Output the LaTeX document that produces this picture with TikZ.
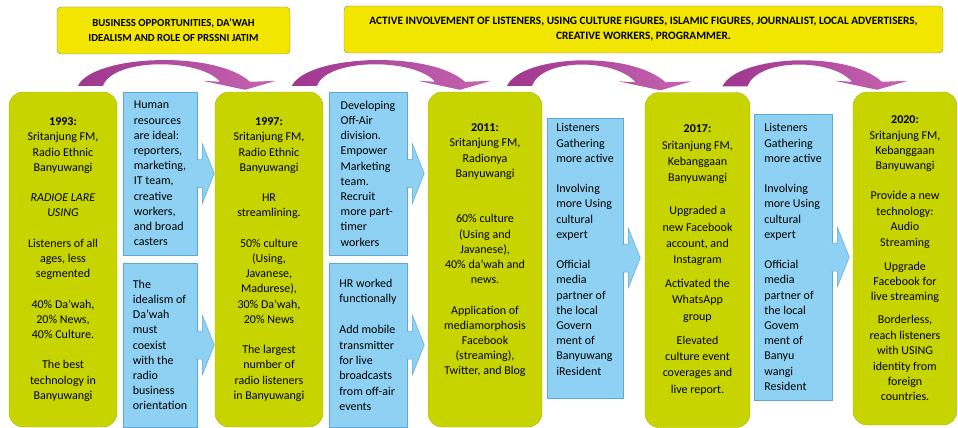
\documentclass[tikz,border=0pt]{standalone}
\usepackage{fontspec}
\setmainfont{Carlito}
\usetikzlibrary{calc}
\definecolor{lime}{HTML}{C8D400}
\definecolor{skyblue}{HTML}{8ED1F2}
\definecolor{skyline}{HTML}{5AA9D6}
\definecolor{banner}{HTML}{F2E600}
\definecolor{plum}{HTML}{A0368F}
\definecolor{orchid}{HTML}{C565B0}
\tikzset{
  yearbox/.style={draw=lime!85!black, line width=0.4pt, fill=lime, rounded corners=14pt,
    minimum width=108pt, minimum height=335pt, align=center, inner sep=0pt},
  notebox/.style={draw=skyline, line width=0.5pt, fill=skyblue, align=left, inner sep=0pt},
  headfill/.style={draw=skyline, line width=0.5pt, fill=skyblue},
  topbox/.style={draw=gray, fill=banner, rounded corners=4pt, align=center,
    minimum height=47pt, font=\fontsize{11.3}{15}\selectfont\bfseries},
  bendfill/.style={left color=plum, right color=orchid},
}

\begin{document}
\begin{tikzpicture}[x=1pt, y=-1pt, font=\fontsize{12}{15.2}\selectfont]

  \newcommand\headon[1]{%
    \filldraw[headfill] ($(#1.east)+(-1,-14)$) -- ($(#1.east)+(5,-14)$) -- ($(#1.east)+(5,-30)$)
    -- ($(#1.east)+(17,0)$) -- ($(#1.east)+(5,30)$) -- ($(#1.east)+(5,14)$) -- ($(#1.east)+(-1,14)$);}
  \newcommand\swoop[2]{%
    \shade[bendfill] (#1) .. controls ($(#1)+(15,-31)$) and ($(#2)+(-30,-40)$) .. ($(#2)+(5,-8)$)
    -- ($(#2)+(31,-9)$) -- (#2) -- ($(#2)+(-42,-9)$) -- ($(#2)+(-25,-8)$)
    .. controls ($(#2)+(-45,-32)$) and ($(#1)+(35,-28)$) .. ($(#1)+(25,0)$) -- cycle;}

  \useasboundingbox (0,0) rectangle (958,428);

  %% top banners
  \node[topbox, minimum width=233pt, font=\fontsize{10.8}{15}\selectfont\bfseries] (opp) at (173.5,30.5)
  {BUSINESS OPPORTUNITIES, DA'WAH\\ IDEALISM AND ROLE OF PRSSNI JATIM};
  \node[topbox, minimum width=599pt] (act) at (643.5,29.5)
  {ACTIVE INVOLVEMENT OF LISTENERS, USING CULTURE FIGURES, ISLAMIC FIGURES, JOURNALIST, LOCAL ADVERTISERS,\\
    CREATIVE WORKERS, PROGRAMMER.};

  %% years
  \node[yearbox] (y1993) at (63,259.5)
  {\textbf{1993:}\\ Sritanjung FM,\\ Radio Ethnic\\ Banyuwangi\\[15.2pt]
    \textit{RADIOE LARE}\\ \textit{USING}\\[15.2pt]
    Listeners of all\\ ages, less\\ segmented\\[15.2pt]
    40\% Da'wah,\\ 20\% News,\\ 40\% Culture.\\[15.2pt]
    The best\\ technology in\\ Banyuwangi};
  \node[yearbox] (y1997) at (269,259.5)
  {\textbf{1997:}\\ Sritanjung FM,\\ Radio Ethnic\\ Banyuwangi\\[15.2pt]
    HR\\ streamlining.\\[15.2pt]
    50\% culture\\ (Using,\\ Javanese,\\ Madurese),\\ 30\% Da'wah,\\ 20\% News\\[15.2pt]
    The largest\\ number of\\ radio listeners\\ in Banyuwangi};
  \node[yearbox, minimum width=114pt] (y2011) at (485,259.5)
  {\textbf{2011:}\\ Sritanjung FM,\\ Radionya\\ Banyuwangi\\[30.4pt]
    60\% culture\\ (Using and\\ Javanese),\\ 40\% da'wah and\\ news.\\[15.2pt]
    Application of\\ mediamorphosis\\ Facebook\\ (streaming),\\ Twitter, and Blog\\[5pt] \mbox{}};
  \node[yearbox, minimum width=105pt, font=\fontsize{12}{16.3}\selectfont] (y2017) at (697.5,260)
  {\textbf{2017:}\\ Sritanjung FM,\\ Kebanggaan\\ Banyuwangi\\[16.7pt]
    Upgraded a\\ new Facebook\\ account, and\\ Instagram\\[7.7pt]
    Activated the\\ WhatsApp\\ group\\[7.7pt]
    Elevated\\ culture event\\ coverages and\\ live report.};
  \node[yearbox, minimum width=104pt, minimum height=333pt, font=\fontsize{12}{15.4}\selectfont]
  (y2020) at (905,258.5)
  {\textbf{2020:}\\ Sritanjung FM,\\ Kebanggaan\\ Banyuwangi\\[14.6pt]
    Provide a new\\ technology:\\ Audio\\ Streaming\\[8.6pt]
    Upgrade\\ Facebook for\\ live streaming\\[7.6pt]
    Borderless,\\ reach listeners\\ with USING\\ identity from\\ foreign\\ countries.};

  %% steps between years
  \node[notebox, minimum width=74pt, minimum height=163pt] (hr1) at (160,173.5)
  {Human\\ resources\\ are ideal:\\ reporters,\\ marketing,\\ IT team,\\ creative\\ workers,\\ and broad\\ casters};
  \node[notebox, minimum width=74pt, minimum height=164pt] (da1) at (160,345)
  {The\\ idealism of\\ Da'wah\\ must\\ coexist\\ with the\\ radio\\ business\\ orientation};
  \node[notebox, minimum width=78pt, minimum height=163pt] (off2) at (368,173.5)
  {Developing\\ Off-Air\\ division.\\ Empower\\ Marketing\\ team.\\ Recruit\\ more part-\\ timer\\ workers};
  \node[notebox, minimum width=78pt, minimum height=164pt, font=\fontsize{12}{15.4}\selectfont]
  (hr2) at (368,345)
  {HR worked\\ functionally\\[15.4pt] Add mobile\\ transmitter\\ for live\\ broadcasts\\ from off-air\\ events};
  \node[notebox, minimum width=76pt, minimum height=280pt] (lis3) at (585,258)
  {Listeners\\ Gathering\\ more active\\[15.2pt] Involving\\ more Using\\ cultural\\ expert\\[15.2pt]
    Official\\ media\\ partner of\\ the local\\ Govern\\ ment of\\ Banyuwang\\ iResident\\[2pt] \mbox{}};
  \node[notebox, minimum width=78pt, minimum height=286pt] (lis4) at (793,257)
  {Listeners\\ Gathering\\ more active\\[15.2pt] Involving\\ more Using\\ cultural\\ expert\\[15.2pt]
    Official\\ media\\ partner of\\ the local\\ Govem\\ ment of\\ Banyu\\ wangi\\ Resident};

  \headon{hr1} \headon{da1} \headon{off2} \headon{hr2} \headon{lis3} \headon{lis4}

  %% curved arrows over the years
  \coordinate (f1) at ([xshift=15pt,yshift=6pt]y1993.north);
  \coordinate (t1) at ([xshift=-24pt,yshift=2pt]y1997.north);
  \coordinate (f2) at ([xshift=23pt,yshift=6pt]y1997.north);
  \coordinate (t2) at ([xshift=-25pt,yshift=2pt]y2011.north);
  \coordinate (f3) at ([xshift=22pt,yshift=6pt]y2011.north);
  \coordinate (t3) at ([xshift=-37pt,yshift=2pt]y2017.north);
  \coordinate (f4) at ([xshift=25pt,yshift=6pt]y2017.north);
  \coordinate (t4) at ([xshift=-28pt,yshift=2pt]y2020.north);
  \swoop{f1}{t1} %% 1993 -> 1997
  \swoop{f2}{t2} %% 1997 -> 2011
  \swoop{f3}{t3} %% 2011 -> 2017
  \swoop{f4}{t4} %% 2017 -> 2020

\end{tikzpicture}
\end{document}
